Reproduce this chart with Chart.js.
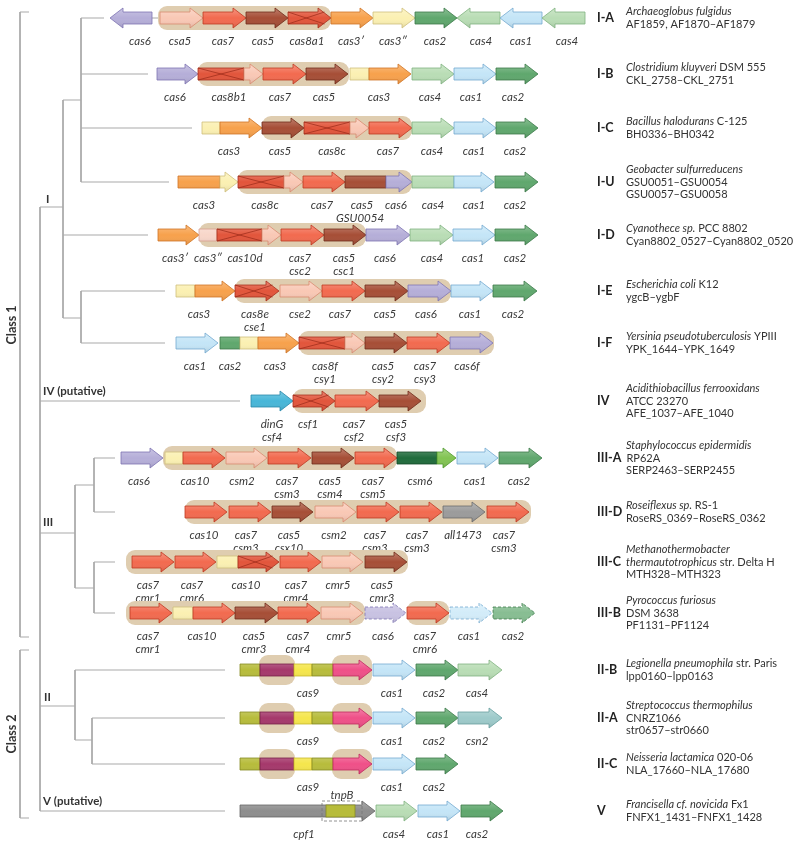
<!DOCTYPE html>
<html>
<head>
<meta charset="utf-8">
<script src="https://cdn.jsdelivr.net/npm/chart.js@4.4.1/dist/chart.umd.min.js"></script>
<style>
html,body{margin:0;padding:0;background:#fff;}
#wrap{position:relative;width:800px;height:843px;}
</style>
</head>
<body>
<div id="wrap"><canvas id="crispr"></canvas></div>
<script>
// Rows, top to bottom
const subtypes = ['I-A','I-B','I-C','I-U','I-D','I-E','I-F','IV','III-A','III-D','III-C','III-B','II-B','II-A','II-C','V'];
const rowY = [18,74,128,182,235,291,343,401,458,512,562,613,670,718,764,811];

// genes: [flags, [start, end, kind], ...]  flags: '<' points left, '-' dashed
const genesIA = [['<',[110,152,'cas6']],['',[160,203,'sal']],['',[203,246,'cas7']],['',[246,288,'cas5']],['',[288,331,'cas8']],
  ['',[331,373,'cas3']],['',[373,415,'yel']],['',[415,457,'cas2']],['<',[457,500,'cas4']],['<',[500,542,'cas1']],['<',[542,585,'cas4']]];
const genesIB = [['',[157,198,'cas6']],['',[198,244,'cas8'],[244,263,'sal']],['',[263,306,'cas7']],['',[306,348,'cas5']],
  ['',[350,369,'yel'],[369,411,'cas3']],['',[412,454,'cas4']],['',[454,496,'cas1']],['',[496,538,'cas2']]];
const genesIC = [['',[202,220,'yel'],[220,262,'cas3']],['',[262,304,'cas5']],['',[304,350,'cas8'],[350,369,'sal']],['',[369,412,'cas7']],
  ['',[412,454,'cas4']],['',[454,496,'cas1']],['',[496,538,'cas2']]];
const genesIU = [['',[178,220,'cas3'],[220,238,'yel']],['',[238,284,'cas8'],[284,303,'sal']],['',[303,345,'cas7']],
  ['',[345,386,'cas5'],[386,412,'cas6']],['',[412,454,'cas4'],[454,494,'cas1']],['',[495,538,'cas2']]];
const genesID = [['',[158,199,'cas3']],['',[199,217,'pale'],[217,262,'cas8'],[262,281,'sal']],['',[281,324,'cas7']],['',[324,366,'cas5']],
  ['',[366,410,'cas6']],['',[410,453,'cas4']],['',[453,495,'cas1']],['',[495,538,'cas2']]];
const genesIE = [['',[176,195,'yel'],[195,235,'cas3']],['',[235,279,'cas8']],['',[280,322,'sal']],['',[322,365,'cas7']],['',[365,408,'cas5']],
  ['',[408,451,'cas6']],['',[451,493,'cas1']],['',[493,537,'cas2']]];
const genesIF = [['',[176,218,'cas1']],['',[220,240,'cas2'],[240,258,'yel'],[258,299,'cas3']],['',[299,345,'cas8'],[345,365,'sal']],
  ['',[365,407,'cas5']],['',[407,450,'cas7']],['',[450,493,'cas6']]];
const genesIV = [['',[251,293,'ding']],['',[293,335,'cas8']],['',[335,379,'cas7']],['',[379,421,'cas5']]];
const genesIIIA = [['',[121,163,'cas6']],['',[165,183,'yel'],[183,225,'cas7']],['',[226,267,'sal']],['',[268,311,'cas7']],['',[312,354,'cas5']],
  ['',[355,397,'cas7']],['',[397,437,'csm6d'],[437,456,'csm6l']],['',[457,498,'cas1']],['',[499,542,'cas2']]];
const genesIIID = [['',[185,227,'cas7']],['',[229,271,'cas7']],['',[272,313,'cas5']],['',[315,356,'sal']],['',[357,399,'cas7']],
  ['',[400,442,'cas7']],['',[443,485,'grey']],['',[487,529,'cas7']]];
const genesIIIC = [['',[132,174,'cas7']],['',[175,216,'cas7']],['',[217,238,'yel'],[238,279,'cas8']],['',[280,321,'cas7']],
  ['',[322,363,'sal']],['',[365,407,'cas5']]];
const genesIIIB = [['',[130,172,'cas7']],['',[173,193,'yel'],[193,235,'cas7']],['',[235,278,'cas5']],['',[278,320,'cas7']],['',[321,363,'sal']],
  ['-',[365,406,'cas6']],['',[407,449,'cas7']],['-',[450,492,'cas1']],['-',[493,535,'cas2']]];
const cas9 = ['',[240,260,'olive'],[260,294,'mag'],[294,312,'yel9'],[312,333,'olive'],[333,372,'pink']];
const genesIIB = [cas9,['',[373,415,'cas1']],['',[416,458,'cas2']],['',[458,502,'cas4']]];
const genesIIA = [cas9,['',[373,415,'cas1']],['',[416,458,'cas2']],['',[458,502,'csn2']]];
const genesIIC = [cas9,['',[373,415,'cas1']],['',[416,458,'cas2']]];
const genesV = [['',[240,375,'cpf1']],['',[376,417,'cas4']],['',[418,460,'cas1']],['',[461,503,'cas2']]];
const operons = [genesIA,genesIB,genesIC,genesIU,genesID,genesIE,genesIF,genesIV,genesIIIA,genesIIID,genesIIIC,genesIIIB,genesIIB,genesIIA,genesIIC,genesV];

// effector complex boxes [start, end]
const complexes = [[[158,331]],[[198,349]],[[262,412]],[[238,412]],[[199,366]],[[235,451]],[[299,494]],[[293,426]],
  [[163,397]],[[185,531]],[[126,408]],[[126,365],[407,449]],[[259,295],[332,372]],[[259,295],[332,372]],[[259,295],[332,372]],[]];

// gene names [text, x]
const namesIA = [['cas6',140],['csa5',180],['cas7',223],['cas5',263],['cas8a1',307],['cas3\u2032',351],['cas3\u2033',393],['cas2',435],['cas4',481],['cas1',521],['cas4',567]];
const namesIB = [['cas6',175],['cas8b1',229],['cas7',280],['cas5',324],['cas3',379],['cas4',430],['cas1',471],['cas2',513]];
const namesIC = [['cas3',229],['cas5',280],['cas8c',332],['cas7',388],['cas4',432],['cas1',474],['cas2',515]];
const namesIU = [['cas3',204],['cas8c',265],['cas7',322],['cas5',362],['cas6',396],['\nGSU0054',360],['cas4',433],['cas1',474],['cas2',515]];
const namesID = [['cas3\u2032',175],['cas3\u2033',208],['cas10d',245],['cas7\ncsc2',300],['cas5\ncsc1',344],['cas6',385],['cas4',432],['cas1',473],['cas2',515]];
const namesIE = [['cas3',199],['cas8e\ncse1',255],['cse2',300],['cas7',340],['cas5',385],['cas6',426],['cas1',470],['cas2',513]];
const namesIF = [['cas1',195],['cas2',230],['cas3',275],['cas8f\ncsy1',325],['cas5\ncsy2',383],['cas7\ncsy3',425],['cas6f',467]];
const namesIV = [['dinG\ncsf4',272],['csf1',308],['cas7\ncsf2',354],['cas5\ncsf3',396]];
const namesIIIA = [['cas6',139],['cas10',195],['csm2',242],['cas7\ncsm3',287],['cas5\ncsm4',330],['cas7\ncsm5',373],['csm6',420],['cas1',475],['cas2',519]];
const namesIIID = [['cas10',204],['cas7\ncsm3',246],['cas5\ncsx10',289],['csm2',334],['cas7\ncsm3',375],['cas7\ncsm3',417],['all1473',463],['cas7\ncsm3',504]];
const namesIIIC = [['cas7\ncmr1',148],['cas7\ncmr6',192],['cas10',246],['cas7\ncmr4',296],['cmr5',338],['cas5\ncmr3',382]];
const namesIIIB = [['cas7\ncmr1',148],['cas10',202],['cas5\ncmr3',254],['cas7\ncmr4',298],['cmr5',339],['cas6',383],['cas7\ncmr6',425],['cas1',469],['cas2',513]];
const namesIIB = [['cas9',308],['cas1',392],['cas2',434],['cas4',477]];
const namesIIA = [['cas9',308],['cas1',392],['cas2',434],['csn2',477]];
const namesIIC = [['cas9',308],['cas1',392],['cas2',434]];
const namesV = [['cpf1',304],['cas4',394],['cas1',438],['cas2',477]];
const geneNames = [namesIA,namesIB,namesIC,namesIU,namesID,namesIE,namesIF,namesIV,namesIIIA,namesIIID,namesIIIC,namesIIIB,namesIIB,namesIIA,namesIIC,namesV];

// tnpB inside cpf1 (row V)
const tnpB = [322,362];
const tnpBCore = [326,355];

// organisms, *italic*
const organisms = [
  ['*Archaeoglobus fulgidus*','AF1859, AF1870\u2013AF1879'],
  ['*Clostridium kluyveri* DSM 555','CKL_2758\u2013CKL_2751'],
  ['*Bacillus halodurans* C-125','BH0336\u2013BH0342'],
  ['*Geobacter sulfurreducens*','GSU0051\u2013GSU0054','GSU0057\u2013GSU0058'],
  ['*Cyanothece sp.* PCC 8802','Cyan8802_0527\u2013Cyan8802_0520'],
  ['*Escherichia coli* K12','ygcB\u2013ygbF'],
  ['*Yersinia pseudotuberculosis* YPIII','YPK_1644\u2013YPK_1649'],
  ['*Acidithiobacillus ferrooxidans*','ATCC 23270','AFE_1037\u2013AFE_1040'],
  ['*Staphylococcus epidermidis*','RP62A','SERP2463\u2013SERP2455'],
  ['*Roseiflexus sp.* RS-1','RoseRS_0369\u2013RoseRS_0362'],
  ['*Methanothermobacter*','*thermautotrophicus* str. Delta H','MTH328\u2013MTH323'],
  ['*Pyrococcus furiosus*','DSM 3638','PF1131\u2013PF1124'],
  ['*Legionella pneumophila* str. Paris','lpp0160\u2013lpp0163'],
  ['*Streptococcus thermophilus*','CNRZ1066','str0657\u2013str0660'],
  ['*Neisseria lactamica* 020-06','NLA_17660\u2013NLA_17680'],
  ['*Francisella cf. novicida* Fx1','FNFX1_1431\u2013FNFX1_1428']
];

// tree [x0,y0,x1,y1]
const treeSegments = [
  [20,12,20,637],[20,12,29,12],[20,637,29,637],
  [20,650,20,818],[20,650,29,650],[20,818,29,818],
  [40,207,40,811],
  [40,207,63,207],[63,100,63,318],[63,100,81,100],[81,18,81,182],
  [81,18,104,18],[152,18,160,18],[81,74,148,74],[81,128,192,128],[81,182,169,182],
  [63,235,148,235],
  [63,318,81,318],[81,291,81,343],[81,291,165,291],[81,343,165,343],
  [40,401,240,401],
  [40,533,75,533],[75,485,75,588],
  [75,485,94,485],[94,458,94,512],[94,458,115,458],[94,512,115,512],
  [75,588,94,588],[94,562,94,613],[94,562,115,562],[94,613,115,613],
  [40,706,75,706],[75,670,75,740],[75,670,225,670],
  [75,740,92,740],[92,718,92,764],[92,718,225,718],[92,764,225,764],
  [40,811,225,811]
];
const cladeNames = [['I',46,199],['IV (putative)',43,391],['III',43,522],['II',44,697],['V (putative)',43,801]];
const classNames = [['Class 1',12,325],['Class 2',12,734]];

const kinds = {
  cas6:['#b5aed8','#7d74b3'], sal:['#f9c8b5','#d88a70'], cas7:['#f26a4f','#bf3a22'], cas5:['#a64e36','#6f2b19'],
  cas8:['#e2553b','#a8301d'], cas3:['#f7a14c','#cf7526'], yel:['#fbf0b2','#cfbf7c'], pale:['#f8d6c9','#d7a090'],
  cas2:['#5fa76d','#3c7a4a'], cas4:['#b9ddb5','#80b280'], cas1:['#c4e5f7','#74aad0'], ding:['#47b6d8','#2a88aa'],
  csm6d:['#1f6b3b','#124a26'], csm6l:['#82c452','#4f992d'], grey:['#9b9b9b','#6b6b6b'], cpf1:['#8d8d8d','#666666'],
  olive:['#b7bc3b','#878c22'], mag:['#a5386b','#772048'], yel9:['#f5e64c','#c9b92a'], pink:['#ef5088','#bf2b5e'],
  csn2:['#9dcaca','#67a0a0']
};
const FONT = 'Lato, "Open Sans", sans-serif';
const BH = 6, HH = 10, HL = 13;

function partPath(ctx, a, b, y, head, dir) {
  ctx.beginPath();
  if (!head) { ctx.rect(a, y - BH, b - a, 2 * BH); return; }
  if (dir > 0) {
    const n = Math.max(a, b - HL);
    ctx.moveTo(a, y - BH); ctx.lineTo(n, y - BH); ctx.lineTo(n, y - HH); ctx.lineTo(b, y);
    ctx.lineTo(n, y + HH); ctx.lineTo(n, y + BH); ctx.lineTo(a, y + BH);
  } else {
    const n = Math.min(b, a + HL);
    ctx.moveTo(b, y - BH); ctx.lineTo(n, y - BH); ctx.lineTo(n, y - HH); ctx.lineTo(a, y);
    ctx.lineTo(n, y + HH); ctx.lineTo(n, y + BH); ctx.lineTo(b, y + BH);
  }
  ctx.closePath();
}

function drawRich(ctx, str, x, y, size) {
  const bits = str.split('*');
  bits.forEach((t, i) => {
    if (!t) return;
    ctx.font = (i % 2 ? 'italic ' : '') + size + 'px ' + FONT;
    ctx.fillText(t, x, y);
    x += ctx.measureText(t).width;
  });
}

const operonPlugin = {
  id: 'operons',
  afterDatasetsDraw(chart) {
    const ctx = chart.ctx, xs = chart.scales.x, ys = chart.scales.y;
    const px = v => xs.getPixelForValue(v), py = v => ys.getPixelForValue(v);
    ctx.save();

    operons.forEach((row, r) => {
      const y = py(rowY[r]);
      const tall = subtypes[r].startsWith('II-');
      // complex boxes
      ctx.fillStyle = '#dfcdb0';
      complexes[r].forEach(b => {
        const h = tall ? 15 : 12;
        ctx.beginPath();
        ctx.roundRect(px(b[0]), y - h, px(b[1]) - px(b[0]), 2 * h, 9);
        ctx.fill();
      });
      // genes
      row.forEach(g => {
        const flags = g[0], parts = g.slice(1);
        const dir = flags.includes('<') ? -1 : 1;
        ctx.setLineDash(flags.includes('-') ? [3, 2] : []);
        parts.forEach((p, i) => {
          const a = px(p[0]), b = px(p[1]);
          const head = dir > 0 ? i === parts.length - 1 : i === 0;
          const c = kinds[p[2]];
          partPath(ctx, a, b, y, head, dir);
          ctx.globalAlpha = flags.includes('-') ? 0.75 : 1;
          ctx.fillStyle = c[0];
          ctx.fill();
          const gr = ctx.createLinearGradient(0, y - HH, 0, y + HH);
          gr.addColorStop(0, 'rgba(255,255,255,0.28)');
          gr.addColorStop(0.5, 'rgba(255,255,255,0)');
          gr.addColorStop(1, 'rgba(0,0,0,0.12)');
          ctx.fillStyle = gr;
          ctx.fill();
          ctx.globalAlpha = 1;
          ctx.strokeStyle = c[1];
          ctx.lineWidth = 0.8;
          ctx.stroke();
          if (p[2] === 'cas8') {
            const e = head ? b - HL / 2 : b;
            ctx.beginPath();
            ctx.moveTo(a, y - BH); ctx.lineTo(e, y + BH);
            ctx.moveTo(a, y + BH); ctx.lineTo(e, y - BH);
            ctx.strokeStyle = '#9a2a18';
            ctx.lineWidth = 0.7;
            ctx.stroke();
          }
        });
      });
      ctx.setLineDash([]);
      // gene names
      ctx.fillStyle = '#3a3a3a';
      ctx.font = 'italic 11.5px ' + FONT;
      ctx.textAlign = 'center';
      ctx.textBaseline = 'middle';
      geneNames[r].forEach(n => {
        n[0].split('\n').forEach((t, k) => ctx.fillText(t, px(n[1]), y + 23 + k * 13));
      });
    });

    // tnpB in cpf1
    const yv = py(rowY[15]);
    ctx.fillStyle = kinds.olive[0];
    ctx.fillRect(px(tnpBCore[0]), yv - BH, px(tnpBCore[1]) - px(tnpBCore[0]), 2 * BH);
    ctx.strokeStyle = kinds.olive[1];
    ctx.lineWidth = 0.8;
    ctx.strokeRect(px(tnpBCore[0]), yv - BH, px(tnpBCore[1]) - px(tnpBCore[0]), 2 * BH);
    ctx.setLineDash([3, 2]);
    ctx.strokeStyle = '#777';
    ctx.strokeRect(px(tnpB[0]), yv - 10, px(tnpB[1]) - px(tnpB[0]), 20);
    ctx.setLineDash([]);
    ctx.fillStyle = '#3a3a3a';
    ctx.font = 'italic 11.5px ' + FONT;
    ctx.fillText('tnpB', px((tnpB[0] + tnpB[1]) / 2), yv - 16);

    // subtype + organism column
    ctx.textAlign = 'left';
    subtypes.forEach((s, r) => {
      const y = py(rowY[r]);
      ctx.fillStyle = '#222';
      ctx.font = 'bold 12.5px ' + FONT;
      ctx.fillText(s, 597, y);
      const w = ctx.measureText(s).width;
      const lines = organisms[r];
      ctx.fillStyle = '#333';
      lines.forEach((t, k) => {
        const off = (k - (lines.length - 1) / 2) * 12.5;
        const x = Math.abs(off) < 1 ? Math.max(626, 597 + w + 5) : 626;
        drawRich(ctx, t, x, y + off, 11);
      });
    });

    // clade labels
    ctx.fillStyle = '#333';
    ctx.font = 'bold 11.5px ' + FONT;
    cladeNames.forEach(c => ctx.fillText(c[0], px(c[1]), py(c[2])));
    ctx.font = 'bold 12.5px ' + FONT;
    ctx.textAlign = 'center';
    classNames.forEach(c => {
      ctx.save();
      ctx.translate(px(c[1]), py(c[2]));
      ctx.rotate(-Math.PI / 2);
      ctx.fillText(c[0], 0, 0);
      ctx.restore();
    });
    ctx.restore();
  }
};

new Chart(document.getElementById('crispr'), {
  type: 'scatter',
  data: {
    datasets: treeSegments.map(s => ({
      data: [{x: s[0], y: s[1]}, {x: s[2], y: s[3]}],
      showLine: true,
      borderColor: '#a9a9a9',
      borderWidth: 1,
      pointRadius: 0
    }))
  },
  options: {
    responsive: true,
    maintainAspectRatio: false,
    animation: false,
    events: [],
    layout: { padding: 0 },
    plugins: { legend: { display: false }, tooltip: { enabled: false } },
    scales: {
      x: { type: 'linear', min: 0, max: 800, display: false },
      y: { type: 'linear', min: 0, max: 843, reverse: true, display: false }
    }
  },
  plugins: [operonPlugin]
});
</script>
</body>
</html>
